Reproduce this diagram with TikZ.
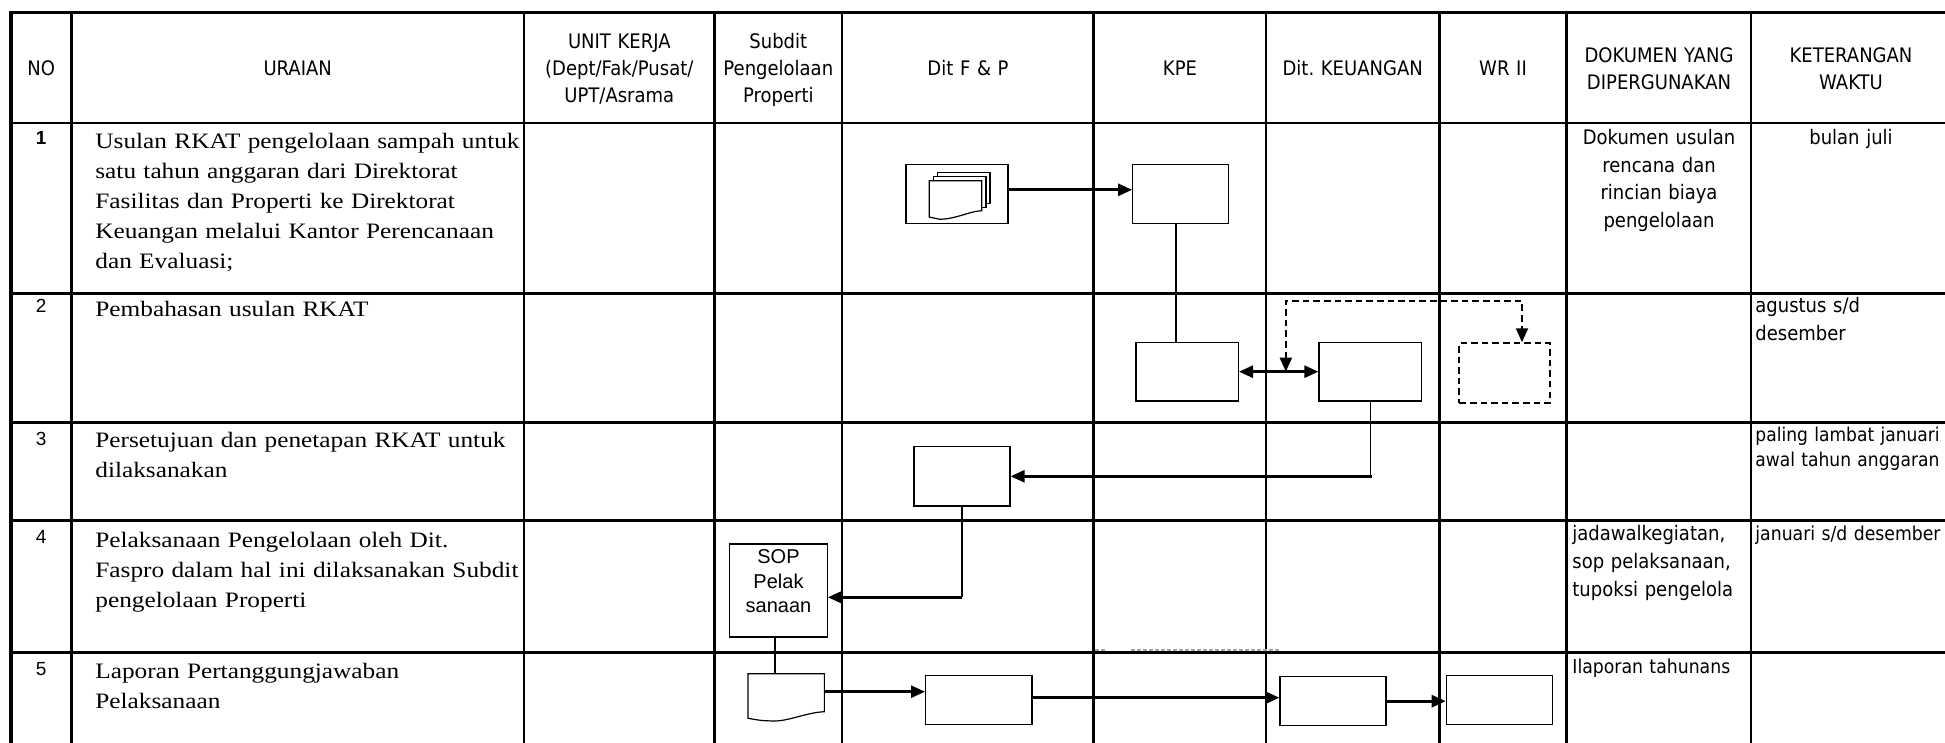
\documentclass[tikz,border=0pt]{standalone}
\usepackage{fontspec}
\setmainfont{Liberation Serif}
\newfontfamily\tabsans{DejaVu Sans}[FakeStretch=0.9]
\newfontfamily\serifrm{Liberation Serif}[FakeStretch=1.15]
\newfontfamily\arialfont{Liberation Sans}
\usetikzlibrary{arrows.meta,calc}

\begin{document}
\begin{tikzpicture}[x=0.5pt, y=-0.5pt,
        >={Triangle[length=7pt,width=6pt]},
        grid/.style={line width=1.4pt},
        box/.style={draw, line width=0.6pt, inner sep=0pt},
        outline/.style={line width=0.6pt},
        link/.style={line width=0.6pt},
        flow/.style={line width=1.35pt},
        dashflow/.style={line width=1pt, dash pattern=on 3.3pt off 2pt},
        head/.style={font=\tabsans\fontsize{10}{13.5}\selectfont, text width=100pt, align=center, inner sep=0pt, anchor=base},
        note/.style={font=\tabsans\fontsize{10}{14}\selectfont, text width=95pt, align=left, inner sep=0pt, anchor=base west},
        desc/.style={font=\serifrm\fontsize{11}{15}\selectfont, text width=225pt, align=left, inner sep=0pt, anchor=base west},
        num/.style={font=\arialfont\fontsize{9.5}{10}\selectfont, inner sep=0pt, anchor=base}]
    \useasboundingbox (0,0) rectangle (1945,743);
    \clip (0,0) rectangle (1945,743);

    % table
    \draw[grid, line width=1.7pt] (11,760) -- (11,12.5) -- (1960,12.5);
    \draw[grid, line width=1.7pt] (71.5,12.5) -- (71.5,760);
    \draw[grid, line width=1pt] (524,12.5) -- (524,760);
    \draw[grid] (714.5,12.5) -- (714.5,760);
    \draw[grid] (842,12.5) -- (842,760);
    \draw[grid] (1093.5,12.5) -- (1093.5,760);
    \draw[grid] (1266,12.5) -- (1266,760);
    \draw[grid] (1439.5,12.5) -- (1439.5,760);
    \draw[grid] (1566.5,12.5) -- (1566.5,760);
    \draw[grid] (1751,12.5) -- (1751,760);
    \draw[grid] (11,123) -- (1960,123);
    \draw[grid] (11,293.3) -- (1960,293.3);
    \draw[grid] (11,422.5) -- (1960,422.5);
    \draw[grid] (11,520.7) -- (1960,520.7);
    \draw[grid] (11,652.2) -- (1960,652.2);
    \draw[gray!70, line width=1pt, dash pattern=on 2pt off 1pt] (1095,650) -- (1105,650);
    \draw[gray!70, line width=1pt, dash pattern=on 2pt off 1pt] (1131,650) -- (1280,650);

    % header
    \node[head] (hNo) at (41.2,76) {NO};
    \node[head] (hUraian) at (297.7,76) {URAIAN};
    \node[head] (hUnit) at (619.3,48.3) {UNIT KERJA\\(Dept/Fak/Pusat/\\UPT/Asrama};
    \node[head] (hSubdit) at (778.3,48.3) {Subdit\\Pengelolaan\\Properti};
    \node[head] (hFP) at (968,76) {Dit F \& P};
    \node[head] (hKPE) at (1180,76) {KPE};
    \node[head] (hKeu) at (1352.7,76) {Dit.\ KEUANGAN};
    \node[head] (hWR) at (1503,76) {WR II};
    \node[head] (hDok) at (1659,62.7) {DOKUMEN YANG\\DIPERGUNAKAN};
    \node[head] (hKet) at (1851,62.7) {KETERANGAN\\WAKTU};

    % row numbers and descriptions
    \node[num] (n1) at (41.2,145) {\bfseries 1};
    \node[num] (n2) at (41.2,313) {2};
    \node[num] (n3) at (41.2,445) {3};
    \node[num] (n4) at (41.2,543.3) {4};
    \node[num] (n5) at (41.2,675) {5};
    \node[desc] (d1) at (95,149) {Usulan RKAT pengelolaan sampah untuk\\satu tahun anggaran dari Direktorat\\Fasilitas dan Properti ke Direktorat\\Keuangan melalui Kantor Perencanaan\\dan Evaluasi;};
    \node[desc] (d2) at (95,317) {Pembahasan usulan RKAT};
    \node[desc] (d3) at (95,447) {Persetujuan dan penetapan RKAT untuk\\dilaksanakan};
    \node[desc] (d4) at (95,547) {Pelaksanaan Pengelolaan oleh Dit.\\Faspro dalam hal ini dilaksanakan Subdit\\pengelolaan Properti};
    \node[desc] (d5) at (95,678) {Laporan Pertanggungjawaban\\Pelaksanaan};

    % documents and time notes
    \node[note, align=center, anchor=base, font=\tabsans\fontsize{10}{13.75}\selectfont] (dok1) at (1659,145) {Dokumen usulan\\rencana dan\\rincian biaya\\pengelolaan};
    \node[note, align=center, anchor=base] (ket1) at (1851,145) {bulan juli};
    \node[note] (ket2) at (1755,313) {agustus s/d\\desember};
    \node[note, font=\tabsans\fontsize{9.5}{12.5}\selectfont] (ket3) at (1755,441.7) {paling lambat januari\\awal tahun anggaran};
    \node[note, font=\tabsans\fontsize{9.6}{12.5}\selectfont] (ket4) at (1755,540) {januari s/d desember};
    \node[note] (dok4) at (1572,540) {jadawalkegiatan,\\sop pelaksanaan,\\tupoksi pengelola};
    \node[note, font=\tabsans\fontsize{9.6}{12.5}\selectfont] (dok5) at (1572,673) {Ilaporan tahunans};

    % flow boxes
    \node[box, minimum width=51pt, minimum height=29.5pt] (docs) at (957,193.8) {};
    \node[box, minimum width=47.8pt, minimum height=29.5pt] (kpeA) at (1180.5,193.8) {};
    \node[box, minimum width=51.2pt, minimum height=29.4pt] (kpeB) at (1187.2,371.7) {};
    \node[box, minimum width=51.2pt, minimum height=29.4pt] (keuB) at (1370.2,371.7) {};
    \node[box, dashflow, minimum width=45.4pt, minimum height=29.7pt] (wrB) at (1504.7,373) {};
    \node[box, minimum width=48pt, minimum height=29.7pt] (fpC) at (962,476.3) {};
    \node[box, minimum width=48.8pt, minimum height=46.5pt] (sop) at (778.5,590.5) {};
    \node[font=\arialfont\fontsize{10}{12.35}\selectfont, text width=45pt, align=center, inner sep=0pt, anchor=base] (sopText) at ([yshift=-10pt]sop.north) {SOP\\Pelak\\sanaan};
    \node[minimum width=38.15pt, minimum height=22.3pt, inner sep=0pt] (docE) at (786.2,696) {};
    \node[box, minimum width=53.2pt, minimum height=24.4pt] (fpE) at (978.8,699.7) {};
    \node[box, minimum width=53pt, minimum height=24.5pt] (keuE) at (1333,701.2) {};
    \node[box, minimum width=53pt, minimum height=24.4pt] (wrE) at (1499.3,699.7) {};

    % document symbols
    \draw[outline, shift={(docs.center)}] (-19.7,-17.1) -- (-19.7,-21.1) -- (33,-21.1) -- (33,9.5) -- (29,9.5);
    \draw[outline, shift={(docs.center)}] (-23.7,-13.1) -- (-23.7,-17.1) -- (29,-17.1) -- (29,13.9) -- (24.7,13.9);
    \draw[outline, shift={(docs.center)}] (-27.7,-13.1) -- (24.7,-13.1) -- (24.7,16.9) .. controls (12,17.5) and (0,25) .. (-17,25.5) .. controls (-22,25.3) .. (-27.7,23.3) -- cycle;
    \draw[outline, shift={(docE.center)}] (-38.15,-22.3) -- (38.15,-22.3) -- (38.15,15.7) .. controls (20,16.5) and (2,25.5) .. (-13.2,25) .. controls (-25,24.6) .. (-38.15,22.3) -- cycle;

    % connectors
    \path[draw, flow, ->] ([yshift=2pt]docs.east) -- ([yshift=2pt]docs.east -| kpeA.west);
    \draw[link] ([xshift=-2.25pt]kpeA.south) -- ([xshift=-2.25pt]kpeA.south |- kpeB.north);
    \path[draw, flow, <->] (kpeB.east) -- (keuB.west);
    \coordinate (split) at ($(kpeB.east)!0.59!(keuB.west)$);
    \path[draw, dashflow, <->] (split) -- ++(0,-70.7) -| ([xshift=8.65pt]wrB.north);
    \coordinate (bendC) at (keuB.south |- fpC.east);
    \draw[link] (keuB.south) -- (bendC);
    \path[draw, flow, ->] ([xshift=1pt]bendC) -- (fpC.east);
    \coordinate (bendD) at ($(fpC.south |- sop.east)+(0,6.8)$);
    \draw[link] (fpC.south) -- (bendD);
    \path[draw, flow, ->] (bendD) -- (bendD -| sop.east);
    \draw[link] ([xshift=-1.75pt]sop.south) -- ([xshift=-1.75pt]sop.south |- docE.north);
    \path[draw, flow, ->] ([yshift=2.15pt]docE.east) -- ([yshift=2.15pt]docE.east -| fpE.west);
    \path[draw, flow, ->] ([yshift=1pt]fpE.east) -- ([yshift=1pt]fpE.east -| keuE.west);
    \path[draw, flow, ->] (keuE.east) -- (keuE.east -| wrE.west);
\end{tikzpicture}
\end{document}
